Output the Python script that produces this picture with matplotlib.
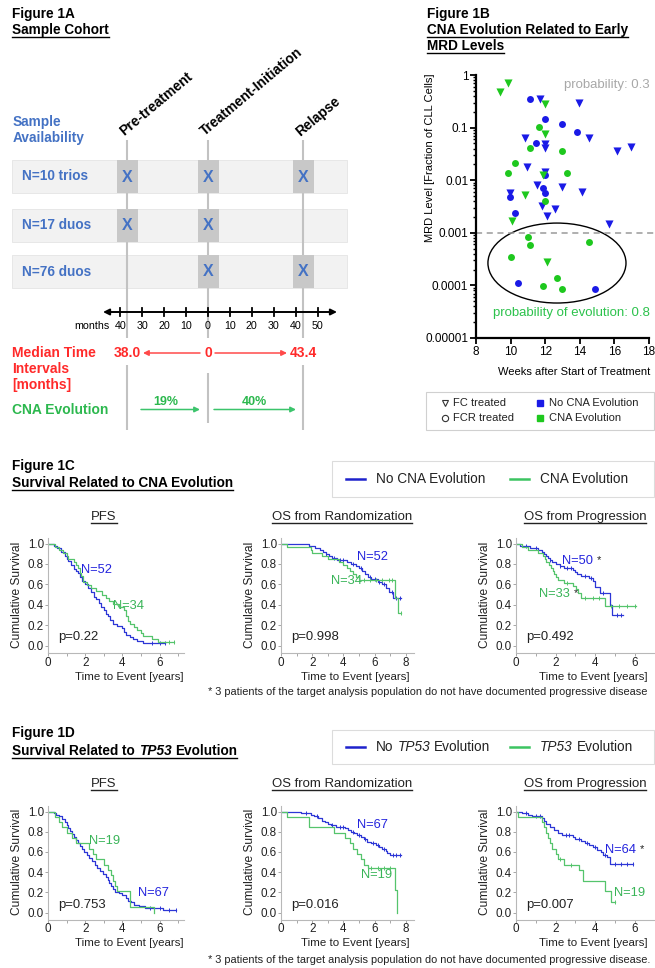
import numpy as np
import matplotlib
matplotlib.use('Agg')
import matplotlib.pyplot as plt
from matplotlib import font_manager
from matplotlib.patches import Rectangle, Ellipse
from matplotlib.lines import Line2D
from matplotlib.ticker import NullFormatter

W, H = 655, 968

# ======================================================================
# DATA
# ======================================================================
# --- Figure 1A ---
ROWS = ['N=10 trios', 'N=17 duos', 'N=76 duos']
TIMEPOINTS = ['Pre-treatment', 'Treatment-Initiation', 'Relapse']
AVAIL = [[1, 1, 1], [1, 1, 0], [0, 1, 1]]
MONTH_POS = [-40, -30, -20, -10, 0, 10, 20, 30, 40, 50]
MONTH_LABELS = ['40', '30', '20', '10', '0', '10', '20', '30', '40', '50']
MEDIAN_LABELS = ['38.0', '0', '43.4']
CNA_EVO = ['19%', '40%']

# --- Figure 1B (weeks, MRD) ---
FC_NO_W = [11.68, 13.97, 10.81, 14.53, 11.99, 11.99, 16.13, 16.96, 10.97, 11.99,
           11.51, 12.97, 14.15, 9.98, 11.82, 12.55, 12.08, 15.69]
FC_NO_M = [0.345, 0.30, 0.063, 0.064, 0.048, 0.041, 0.036, 0.042, 0.0177, 0.0145,
           0.0082, 0.0075, 0.0060, 0.0058, 0.0032, 0.0028, 0.0021, 0.0015]
FCR_NO_W = [11.12, 12.01, 12.97, 13.82, 11.45, 11.99, 11.86, 12.01, 9.98, 10.27, 10.41, 14.86]
FCR_NO_M = [0.344, 0.144, 0.115, 0.083, 0.052, 0.0124, 0.0070, 0.0058, 0.0047, 0.0024,
            0.000112, 0.0000855]
FC_CNA_W = [9.39, 9.85, 11.99, 11.99, 11.86, 10.81, 10.10, 12.08]
FC_CNA_M = [0.48, 0.71, 0.28, 0.076, 0.0126, 0.0053, 0.0017, 0.00028]
FCR_CNA_W = [11.66, 11.12, 12.97, 10.27, 9.85, 13.26, 12.01, 10.99, 11.12, 10.00,
             14.55, 12.70, 11.86, 12.99]
FCR_CNA_M = [0.101, 0.041, 0.036, 0.0215, 0.0139, 0.0135, 0.0040, 0.00083, 0.00059,
             0.00035, 0.00067, 0.000138, 0.0000975, 0.0000867]

# --- Figure 1C: survival by CNA evolution (time [years], survival) ---
C_PFS_NO_T = [0, 0.3, 0.5, 0.7, 0.9, 1.0, 1.1, 1.25, 1.4, 1.5, 1.6, 1.7, 1.85, 2.0, 2.15, 2.3,
              2.45, 2.6, 2.75, 2.85, 3.0, 3.1, 3.2, 3.35, 3.5, 3.7, 4.0, 4.1, 4.2, 4.4, 4.55,
              4.8, 5.1, 6.3]
C_PFS_NO_S = [1.0, 0.98, 0.96, 0.92, 0.88, 0.85, 0.83, 0.79, 0.75, 0.73, 0.71, 0.67, 0.63,
              0.60, 0.56, 0.52, 0.48, 0.46, 0.42, 0.38, 0.35, 0.31, 0.29, 0.25, 0.21, 0.19,
              0.17, 0.13, 0.10, 0.08, 0.06, 0.04, 0.02, 0.02]
C_PFS_NO_CENS = [5.6, 6.0, 6.3]
C_PFS_EV_T = [0, 0.4, 0.6, 0.8, 1.0, 1.1, 1.4, 1.5, 1.6, 1.7, 1.8, 1.9, 2.1, 2.3, 2.6, 2.9,
              3.1, 3.3, 3.5, 3.8, 4.1, 4.2, 4.3, 4.4, 4.6, 4.8, 5.0, 5.1, 5.6, 5.9, 6.8]
C_PFS_EV_S = [1.0, 0.97, 0.94, 0.91, 0.88, 0.85, 0.82, 0.79, 0.76, 0.71, 0.68, 0.62, 0.59,
              0.56, 0.53, 0.50, 0.47, 0.44, 0.41, 0.38, 0.35, 0.29, 0.24, 0.21, 0.18, 0.15,
              0.12, 0.09, 0.06, 0.03, 0.03]
C_PFS_EV_CENS = [6.5, 6.8]

C_OSR_NO_T = [0, 1.8, 2.2, 2.5, 2.7, 2.9, 3.1, 3.3, 3.6, 4.2, 4.5, 4.8, 5.0, 5.2, 5.4, 5.6,
              5.8, 6.2, 6.5, 6.7, 6.9, 7.2, 7.7]
C_OSR_NO_S = [1.0, 0.98, 0.96, 0.94, 0.92, 0.90, 0.88, 0.86, 0.84, 0.82, 0.80, 0.78, 0.76,
              0.73, 0.70, 0.67, 0.65, 0.62, 0.60, 0.56, 0.52, 0.47, 0.47]
C_OSR_NO_CENS = [2.9, 3.4, 3.8, 4.0, 4.6, 5.1, 5.7, 6.0, 6.3, 6.6, 7.1, 7.4, 7.6]
C_OSR_EV_T = [0, 0.4, 1.9, 2.0, 2.6, 3.0, 3.7, 4.0, 4.2, 4.4, 4.6, 4.8, 5.0, 7.3, 7.5, 7.7]
C_OSR_EV_S = [1.0, 0.97, 0.94, 0.91, 0.88, 0.85, 0.82, 0.79, 0.76, 0.73, 0.70, 0.67, 0.64,
              0.47, 0.32, 0.32]
C_OSR_EV_CENS = [5.3, 5.7, 6.1, 6.5, 6.9, 7.1, 7.7]

C_OSP_NO_T = [0, 0.2, 0.7, 1.1, 1.3, 1.4, 1.5, 1.6, 1.7, 1.8, 2.0, 2.2, 2.4, 2.9, 3.0, 3.1,
              3.3, 3.7, 3.9, 4.0, 4.25, 4.75, 4.85, 5.4]
C_OSP_NO_S = [1.0, 0.98, 0.96, 0.94, 0.92, 0.90, 0.88, 0.86, 0.84, 0.82, 0.80, 0.78, 0.76,
              0.74, 0.72, 0.70, 0.68, 0.66, 0.63, 0.57, 0.51, 0.40, 0.30, 0.30]
C_OSP_NO_CENS = [0.5, 1.0, 1.7, 2.2, 2.6, 2.8, 3.5, 3.8, 4.4, 5.1, 5.3]
C_OSP_EV_T = [0, 0.3, 0.6, 1.1, 1.35, 1.45, 1.5, 1.65, 1.75, 1.85, 1.9, 2.0, 2.1, 2.4, 2.9,
              3.05, 3.15, 3.3, 4.5, 6.05]
C_OSP_EV_S = [1.0, 0.97, 0.94, 0.91, 0.88, 0.85, 0.82, 0.79, 0.76, 0.73, 0.70, 0.67, 0.64,
              0.61, 0.58, 0.55, 0.51, 0.47, 0.39, 0.39]
C_OSP_EV_CENS = [2.6, 3.5, 3.9, 4.2, 4.8, 5.2, 5.6, 6.0]

# --- Figure 1D: survival by TP53 evolution ---
D_PFS_NO_T = [0, 0.3, 0.45, 0.6, 0.75, 0.9, 1.0, 1.1, 1.2, 1.3, 1.4, 1.5, 1.6, 1.7, 1.85,
              1.95, 2.1, 2.2, 2.35, 2.5, 2.65, 2.8, 2.95, 3.1, 3.2, 3.3, 3.4, 3.5, 3.6, 3.8,
              4.0, 4.2, 4.3, 4.45, 4.6, 4.9, 5.2, 6.2, 6.9]
D_PFS_NO_S = [1.0, 0.985, 0.97, 0.955, 0.925, 0.895, 0.865, 0.835, 0.805, 0.775, 0.745,
              0.715, 0.685, 0.655, 0.625, 0.595, 0.565, 0.535, 0.505, 0.475, 0.445, 0.415,
              0.385, 0.355, 0.325, 0.295, 0.265, 0.235, 0.205, 0.19, 0.175, 0.145, 0.115,
              0.10, 0.075, 0.06, 0.045, 0.025, 0.025]
D_PFS_NO_CENS = [5.5, 6.0, 6.5, 6.9]
D_PFS_EV_T = [0, 0.4, 0.6, 0.75, 1.0, 1.3, 1.5, 2.2, 2.4, 2.6, 3.0, 3.2, 3.4, 3.5, 3.6, 3.7,
              4.4, 5.7]
D_PFS_EV_S = [1.0, 0.947, 0.895, 0.842, 0.789, 0.737, 0.684, 0.632, 0.579, 0.526, 0.474,
              0.421, 0.368, 0.316, 0.263, 0.211, 0.053, 0.0]
D_PFS_EV_CENS = []

D_OSR_NO_T = [0, 1.3, 1.9, 2.1, 2.4, 2.6, 2.8, 3.0, 3.2, 3.5, 4.1, 4.3, 4.5, 4.7, 4.9, 5.1,
              5.3, 5.5, 5.8, 6.1, 6.3, 6.5, 6.7, 6.8, 7.0, 7.7]
D_OSR_NO_S = [1.0, 0.985, 0.97, 0.955, 0.94, 0.91, 0.895, 0.88, 0.865, 0.85, 0.835, 0.82,
              0.80, 0.785, 0.77, 0.75, 0.73, 0.70, 0.69, 0.67, 0.65, 0.63, 0.61, 0.59, 0.57,
              0.57]
D_OSR_NO_CENS = [1.6, 2.3, 3.3, 3.8, 4.0, 4.6, 5.0, 5.4, 5.9, 6.2, 6.6, 7.2, 7.4, 7.6]
D_OSR_EV_T = [0, 0.4, 1.8, 3.4, 4.1, 4.4, 4.6, 4.9, 5.1, 5.3, 5.6, 7.3, 7.45]
D_OSR_EV_S = [1.0, 0.947, 0.842, 0.789, 0.737, 0.684, 0.632, 0.579, 0.526, 0.474, 0.44,
              0.22, 0.0]
D_OSR_EV_CENS = [5.8, 6.2, 6.6, 7.0]

D_OSP_NO_T = [0, 0.3, 0.6, 0.8, 1.3, 1.4, 1.5, 1.7, 1.9, 2.1, 2.3, 2.9, 3.0, 3.3, 3.5, 3.7,
              3.9, 4.1, 4.3, 4.4, 4.6, 4.75, 5.9]
D_OSP_NO_S = [1.0, 0.985, 0.97, 0.955, 0.94, 0.91, 0.88, 0.85, 0.82, 0.79, 0.77, 0.75,
              0.73, 0.71, 0.69, 0.67, 0.65, 0.62, 0.60, 0.57, 0.55, 0.48, 0.48]
D_OSP_NO_CENS = [0.5, 1.0, 1.2, 2.5, 2.7, 3.2, 3.6, 4.0, 4.5, 5.0, 5.3, 5.6, 5.9]
D_OSP_EV_T = [0, 0.1, 1.3, 1.4, 1.5, 1.6, 1.7, 1.8, 2.0, 2.1, 2.4, 3.2, 3.4, 4.5, 4.8, 5.0]
D_OSP_EV_S = [1.0, 0.947, 0.895, 0.842, 0.789, 0.737, 0.684, 0.632, 0.579, 0.526, 0.474,
              0.42, 0.315, 0.21, 0.105, 0.105]
D_OSP_EV_CENS = [2.2, 2.8, 5.0]

KM_TITLES = ['PFS', 'OS from Randomization', 'OS from Progression']
C_PVALS = ['p=0.22', 'p=0.998', 'p=0.492']
D_PVALS = ['p=0.753', 'p=0.016', 'p=0.007']
FOOTNOTE = '3 patients of the target analysis population do not have documented progressive disease'

# ======================================================================
# STYLE
# ======================================================================
plt.rcParams['font.family'] = ['Liberation Sans', 'DejaVu Sans']

names = set(f.name for f in font_manager.fontManager.ttflist)
if 'Liberation Sans Narrow' in names:
    KMF, K = ['Liberation Sans Narrow', 'Liberation Sans'], 1.0
else:
    KMF, K = ['Liberation Sans', 'DejaVu Sans'], 0.9

BLUE_A = '#4472c4'
RED = '#ff2a2a'
GREEN_A = '#2cb84e'
SC_BLUE = '#1a1ae6'
SC_GREEN = '#1ec81e'
KM_BLUE = '#2c36d6'
KM_GREEN = '#55c46c'
TXT_BLUE = '#2424dd'
TXT_GREEN = '#38b457'


def rect(x0, y0, x1, y1):
    return [x0 / W, 1 - y1 / H, (x1 - x0) / W, (y1 - y0) / H]


fig = plt.figure(figsize=(W / 100, H / 100), dpi=100)
bg = fig.add_axes([0, 0, 1, 1])
bg.set_xlim(0, W)
bg.set_ylim(H, 0)
bg.axis('off')
R = fig.canvas.get_renderer()

underline = []


def head(x, y, s, ul=False, size=9.8, color='black'):
    t = bg.text(x, y, s, fontsize=size, fontweight='bold', color=color, ha='left', va='center')
    if ul:
        underline.append([t])
    return t


def runs(x, y, parts, size, weight='normal', color='#222222', ul=False):
    # pieces of text in different styles, laid out one after another
    sp = 0.278 * size * 100 / 72
    out = []
    for s, style in parts:
        t = bg.text(x, y, s, fontsize=size, fontweight=weight, fontstyle=style, color=color,
                    ha='left', va='center')
        x = t.get_window_extent(R).x1 + sp
        out.append(t)
    if ul:
        underline.append(out)
    return out


# ======================================================================
# FIGURE 1A
# ======================================================================
head(12, 14, 'Figure 1A')
head(12, 30, 'Sample Cohort', ul=True)
head(13, 122, 'Sample', color=BLUE_A)
head(13, 138, 'Availability', color=BLUE_A)

COL_X = [127, 208, 303]
ROW_Y = [176.5, 225, 271.5]

for j, tp in enumerate(TIMEPOINTS):
    bg.text(COL_X[j] - 3, 136.5, tp, rotation=40, rotation_mode='anchor', ha='left',
            va='baseline', fontsize=10, fontweight='bold')
    if j == 1:
        segs = [(140, 338), (373, 423)]
    else:
        segs = [(140, 338), (365, 430)]
    for a, b in segs:
        bg.plot([COL_X[j], COL_X[j]], [a, b], color='#c2c2c2', lw=1.5, zorder=2,
                solid_capstyle='butt')

for i, lab in enumerate(ROWS):
    yc = ROW_Y[i]
    bg.add_patch(Rectangle((12, yc - 16.5), 335, 33, fc='#f2f2f2', ec='#e4e4e4', lw=0.6, zorder=1))
    bg.text(22, yc, lab, color=BLUE_A, fontsize=9.8, fontweight='bold', va='center', zorder=5)
    for j, a in enumerate(AVAIL[i]):
        if a:
            bg.add_patch(Rectangle((COL_X[j] - 10.5, yc - 16.5), 21, 33, fc='#c8c8c8',
                                   ec='none', zorder=3))
            bg.text(COL_X[j], yc + 0.5, 'X', color=BLUE_A, fontsize=11.5, fontweight='bold',
                    ha='center', va='center', zorder=5)

# timeline
bg.annotate('', xy=(103, 312), xytext=(337, 312),
            arrowprops=dict(arrowstyle='<|-|>', color='black', lw=1.4, mutation_scale=9,
                            shrinkA=0, shrinkB=0), zorder=4)
for m, lab in zip(MONTH_POS, MONTH_LABELS):
    x = 208 + m * 2.19
    bg.plot([x, x], [308, 316], color='black', lw=1.3, zorder=4)
    bg.text(x, 326, lab, ha='center', va='center', fontsize=7.7)
bg.text(110, 326, 'months', ha='right', va='center', fontsize=7.7)

head(12, 353, 'Median Time', color=RED, size=10)
head(12, 369, 'Intervals', color=RED, size=10)
head(12, 385, '[months]', color=RED, size=10)
for j, lab in enumerate(MEDIAN_LABELS):
    bg.text(COL_X[j], 353, lab, color=RED, fontsize=10, fontweight='bold', ha='center', va='center')
bg.annotate('', xy=(143, 353), xytext=(200, 353),
            arrowprops=dict(arrowstyle='-|>', color='#ff4a4a', lw=1.1, mutation_scale=8,
                            shrinkA=0, shrinkB=0))
bg.annotate('', xy=(287, 353), xytext=(215, 353),
            arrowprops=dict(arrowstyle='-|>', color='#ff4a4a', lw=1.1, mutation_scale=8,
                            shrinkA=0, shrinkB=0))

head(12, 410, 'CNA Evolution', color=GREEN_A, size=10)
for (xa, xb), lab, xt in zip([(141, 200), (214, 296)], CNA_EVO, [166, 254]):
    bg.annotate('', xy=(xb, 409.5), xytext=(xa, 409.5),
                arrowprops=dict(arrowstyle='-|>', color='#3cc46c', lw=1.1, mutation_scale=8,
                                shrinkA=0, shrinkB=0))
    bg.text(xt, 402, lab, color=GREEN_A, fontsize=9, fontweight='bold', ha='center', va='center')

# ======================================================================
# FIGURE 1B
# ======================================================================
head(427, 14, 'Figure 1B')
head(427, 30, 'CNA Evolution Related to Early', ul=True)
head(427, 46, 'MRD Levels', ul=True)

ax = fig.add_axes(rect(476, 75, 649, 338))
ax.set_yscale('log')
ax.set_xlim(8, 18)
ax.set_ylim(1e-5, 1)
ax.scatter(FC_NO_W, FC_NO_M, marker='v', s=34, color=SC_BLUE, lw=0, zorder=3, clip_on=False)
ax.scatter(FCR_NO_W, FCR_NO_M, marker='o', s=25, color=SC_BLUE, lw=0, zorder=3, clip_on=False)
ax.scatter(FC_CNA_W, FC_CNA_M, marker='v', s=34, color=SC_GREEN, lw=0, zorder=3, clip_on=False)
ax.scatter(FCR_CNA_W, FCR_CNA_M, marker='o', s=25, color=SC_GREEN, lw=0, zorder=3, clip_on=False)
ax.axhline(1e-3, xmin=0, xmax=1.035, color='#9a9a9a', ls=(0, (4, 3)), lw=1.1, clip_on=False)
ax.add_patch(Ellipse((0.468, 0.285), 0.798, 0.304, transform=ax.transAxes, fill=False,
                     ec='black', lw=1.0, clip_on=False))
ax.set_xticks([8, 10, 12, 14, 16, 18])
ax.set_yticks([1e-5, 1e-4, 1e-3, 1e-2, 1e-1, 1],
              labels=['0.00001', '0.0001', '0.001', '0.01', '0.1', '1'])
ax.yaxis.set_minor_formatter(NullFormatter())
for s in ['top', 'right']:
    ax.spines[s].set_visible(False)
for s in ['left', 'bottom']:
    ax.spines[s].set_linewidth(1.6)
ax.tick_params(which='major', length=4, width=1.3, labelsize=8.5, pad=1.5)
ax.tick_params(which='minor', length=2.5, width=1.0)
ax.patch.set_alpha(0)

bg.text(430, 158, 'MRD Level [Fraction of CLL Cells]', rotation=90, ha='center', va='center',
        fontsize=8)
bg.text(574, 372, 'Weeks after Start of Treatment', ha='center', va='center', fontsize=8)
bg.text(650, 85, 'probability: 0.3', ha='right', va='center', fontsize=9.5, color='#a8a8a8')
bg.text(650, 313, 'probability of evolution: 0.8', ha='right', va='center', fontsize=9.5,
        color='#2cc24c')

# legend 1B
bg.add_patch(Rectangle((426, 392), 228, 38, fc='white', ec='#d0d0d0', lw=0.8))
bg.plot(445, 403, marker='v', mfc='none', mec='#333333', ms=5, mew=0.8)
bg.plot(445, 418, marker='o', mfc='none', mec='#333333', ms=4.5, mew=0.8)
bg.plot(540, 403, marker='s', color=SC_BLUE, ms=4.5)
bg.plot(540, 418, marker='s', color=SC_GREEN, ms=4.5)
for x, y, s in [(453, 403, 'FC treated'), (453, 418, 'FCR treated'),
                (549, 403, 'No CNA Evolution'), (549, 418, 'CNA Evolution')]:
    bg.text(x, y, s, fontsize=8, va='center', color='#222222')

# ======================================================================
# FIGURE 1C / 1D  (Kaplan-Meier)
# ======================================================================
PANEL_X = [(48, 18.6, 7.3), (281, 15.6, 8.5), (516, 19.8, 7.0)]
TITLE_X = [104, 342, 585]
XLAB_X = [129, 355, 593]
XTICKS = [[0, 2, 4, 6], [0, 2, 4, 6, 8], [0, 2, 4, 6]]


def step_at(t, s, x):
    idx = np.searchsorted(t, x, side='right') - 1
    return np.asarray(s)[idx]


def km_row(y1, y0, title_y, xlab_y, p_y, curves, pvals):
    for j, (x0, sc, xmax) in enumerate(PANEL_X):
        top = y1 - 0.05 * (y0 - y1)
        bot = y0 + 0.07 * (y0 - y1)
        ax = fig.add_axes(rect(x0, top, x0 + xmax * sc, bot))
        ax.set_xlim(0, xmax)
        ax.set_ylim(-0.07, 1.05)
        for t, s, cens, col in curves[j]:
            ax.plot(t, s, drawstyle='steps-post', color=col, lw=0.9)
            if len(cens):
                ax.plot(cens, step_at(t, s, cens), ls='none', marker='|', ms=2.5, mew=0.7,
                        color=col)
        ax.set_xticks(XTICKS[j], labels=[str(v) for v in XTICKS[j]], fontsize=9.3 * K,
                      family=KMF)
        ax.set_xticks(np.arange(1, xmax, 2), minor=True)
        yt = [0, 0.2, 0.4, 0.6, 0.8, 1.0]
        ax.set_yticks(yt, labels=['%.1f' % v for v in yt], fontsize=9.3 * K, family=KMF)
        for s in ['top', 'right']:
            ax.spines[s].set_visible(False)
        for s in ['left', 'bottom']:
            ax.spines[s].set_color('#b8b8b8')
            ax.spines[s].set_linewidth(0.8)
        ax.tick_params(which='both', length=2, width=0.6, color='#999999', pad=0.8,
                       labelcolor='#222222')
        ax.patch.set_alpha(0)
        tt = bg.text(TITLE_X[j], title_y, KM_TITLES[j], ha='center', va='center',
                     fontsize=10.5 * K, family=KMF, color='#222222')
        underline.append([tt])
        bg.text(x0 - 31, (y1 + y0) / 2, 'Cumulative Survival', rotation=90, ha='center',
                va='center', fontsize=9.6 * K, family=KMF, color='#222222')
        bg.text(XLAB_X[j], xlab_y, 'Time to Event [years]', ha='center', va='center',
                fontsize=9.2 * K, family=KMF, color='#222222')
        bg.text(x0 + 10, p_y, pvals[j], ha='left', va='center', fontsize=10.5 * K, family=KMF,
                color='#222222')


def nlab(x, y, s, col, star=False):
    bg.text(x, y, s, ha='left', va='center', fontsize=10.3 * K, family=KMF, color=col)
    if star:
        bg.text(x + 35, y - 1, '*', ha='left', va='center', fontsize=9 * K, family=KMF,
                color='#222222')


def legend_box(y0, y1, parts1, parts2):
    bg.add_patch(Rectangle((332, y0), 322, y1 - y0, fc='white', ec='#dcdcdc', lw=0.8))
    yc = (y0 + y1) / 2
    bg.plot([346, 365], [yc, yc], color='#1e22cc', lw=1.8)
    bg.plot([510, 529], [yc, yc], color='#3cc461', lw=1.8)
    runs(376, yc, parts1, 9.8)
    runs(540, yc, parts2, 9.8)


FOOT_SIZE = 7.9

# --- 1C ---
head(12, 466, 'Figure 1C')
head(12, 483, 'Survival Related to CNA Evolution', ul=True)
legend_box(461, 497, [('No CNA Evolution', 'normal')], [('CNA Evolution', 'normal')])
km_row(543.5, 645.5, 517, 677, 637, [
    [(C_PFS_NO_T, C_PFS_NO_S, C_PFS_NO_CENS, KM_BLUE), (C_PFS_EV_T, C_PFS_EV_S, C_PFS_EV_CENS, KM_GREEN)],
    [(C_OSR_NO_T, C_OSR_NO_S, C_OSR_NO_CENS, KM_BLUE), (C_OSR_EV_T, C_OSR_EV_S, C_OSR_EV_CENS, KM_GREEN)],
    [(C_OSP_NO_T, C_OSP_NO_S, C_OSP_NO_CENS, KM_BLUE), (C_OSP_EV_T, C_OSP_EV_S, C_OSP_EV_CENS, KM_GREEN)],
], C_PVALS)
nlab(81, 570, 'N=52', TXT_BLUE)
nlab(113, 606, 'N=34', TXT_GREEN)
nlab(357, 557, 'N=52', TXT_BLUE)
nlab(331, 581, 'N=34', TXT_GREEN)
nlab(562, 561, 'N=50', TXT_BLUE, star=True)
nlab(539, 594, 'N=33', TXT_GREEN, star=True)
bg.text(208, 692, '* ' + FOOTNOTE, ha='left', va='center', fontsize=FOOT_SIZE, family=KMF,
        color='#222222')

# --- 1D ---
head(12, 733, 'Figure 1D')
runs(12, 751, [('Survival Related to', 'normal'), ('TP53', 'italic'), ('Evolution', 'normal')],
     9.8, weight='bold', color='black', ul=True)
legend_box(730, 764, [('No', 'normal'), ('TP53', 'italic'), ('Evolution', 'normal')],
           [('TP53', 'italic'), ('Evolution', 'normal')])
km_row(811.5, 912.5, 784, 943, 905, [
    [(D_PFS_NO_T, D_PFS_NO_S, D_PFS_NO_CENS, KM_BLUE), (D_PFS_EV_T, D_PFS_EV_S, D_PFS_EV_CENS, KM_GREEN)],
    [(D_OSR_NO_T, D_OSR_NO_S, D_OSR_NO_CENS, KM_BLUE), (D_OSR_EV_T, D_OSR_EV_S, D_OSR_EV_CENS, KM_GREEN)],
    [(D_OSP_NO_T, D_OSP_NO_S, D_OSP_NO_CENS, KM_BLUE), (D_OSP_EV_T, D_OSP_EV_S, D_OSP_EV_CENS, KM_GREEN)],
], D_PVALS)
nlab(89, 841, 'N=19', TXT_GREEN)
nlab(138, 893, 'N=67', TXT_BLUE)
nlab(357, 825, 'N=67', TXT_BLUE)
nlab(361, 875, 'N=19', TXT_GREEN)
nlab(605, 850, 'N=64', TXT_BLUE, star=True)
nlab(614, 893, 'N=19', TXT_GREEN)
bg.text(208, 960, '* ' + FOOTNOTE + '.', ha='left', va='center', fontsize=FOOT_SIZE, family=KMF,
        color='#222222')

# ======================================================================
# UNDERLINES
# ======================================================================
fig.canvas.draw()
R = fig.canvas.get_renderer()
for grp in underline:
    bbs = [t.get_window_extent(R) for t in grp]
    yy = bbs[0].y0 + 0.5
    fig.add_artist(Line2D([bbs[0].x0 / W, bbs[-1].x1 / W], [yy / H, yy / H],
                          color=grp[0].get_color(), lw=1.0, transform=fig.transFigure))

fig.savefig('out.png', dpi=100)
